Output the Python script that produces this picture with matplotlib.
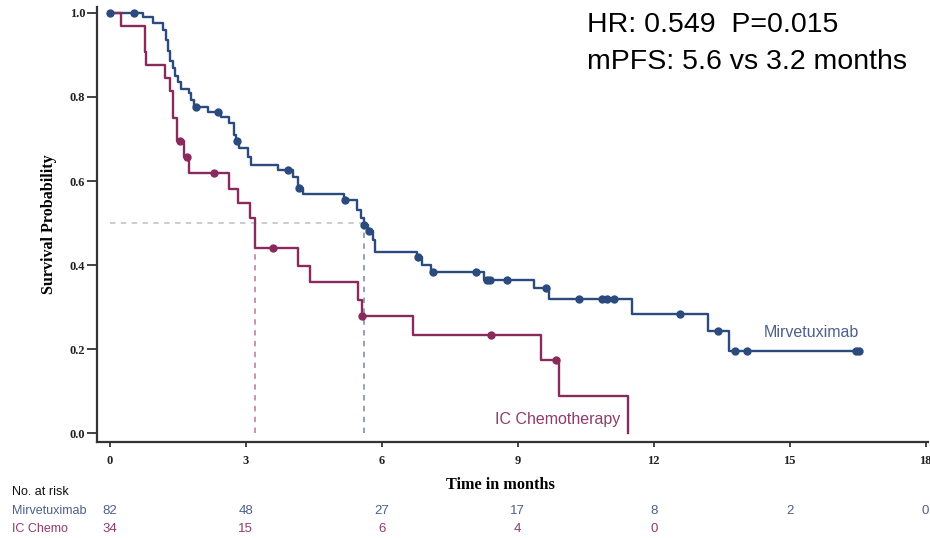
import numpy as np
import matplotlib
matplotlib.use("Agg")
import matplotlib.pyplot as plt
from matplotlib.transforms import blended_transform_factory

# Mirvetuximab: event times (months) and survival after each step
mirv_t = [0, 0.73, 0.95, 1.17, 1.25, 1.28, 1.32, 1.39, 1.43, 1.50, 1.58, 1.76, 1.80, 1.87,
          2.17, 2.46, 2.64, 2.75, 2.79, 2.86, 3.05, 3.12, 3.71, 4.04, 4.15, 4.26, 5.16,
          5.45, 5.55, 5.60, 5.69, 5.80, 5.85, 6.78, 6.90, 7.09, 8.26, 9.36, 9.69, 11.52,
          13.20, 13.66, 16.58]
mirv_s = [1.0, 0.99, 0.975, 0.96, 0.935, 0.91, 0.885, 0.87, 0.85, 0.836, 0.82, 0.81, 0.793, 0.777,
          0.765, 0.753, 0.738, 0.71, 0.694, 0.678, 0.658, 0.638, 0.626, 0.61, 0.583, 0.568, 0.555,
          0.531, 0.512, 0.495, 0.48, 0.46, 0.432, 0.42, 0.40, 0.384, 0.364, 0.345, 0.319, 0.283,
          0.244, 0.195, 0.195]
mirv_cens = [0.0, 0.53, 1.91, 2.39, 2.81, 3.93, 4.17, 5.19, 5.62, 5.71, 6.80, 7.13, 8.08, 8.33,
             8.40, 8.77, 9.62, 10.35, 10.86, 10.97, 11.12, 12.58, 13.41, 13.79, 14.05, 16.47, 16.53]

# IC Chemotherapy
chemo_t = [0, 0.24, 0.77, 0.81, 1.23, 1.34, 1.39, 1.48, 1.65, 1.76, 2.64, 2.83, 3.10, 3.21,
           4.15, 4.42, 5.47, 5.56, 6.68, 9.51, 9.91, 11.43]
chemo_s = [1.0, 0.968, 0.908, 0.876, 0.845, 0.813, 0.749, 0.694, 0.658, 0.62, 0.58, 0.548, 0.511, 0.44,
           0.398, 0.359, 0.318, 0.279, 0.233, 0.175, 0.088, 0.0]
chemo_cens = [1.54, 1.70, 2.31, 3.60, 5.57, 8.41, 9.85]

med_mirv = 5.6
med_chemo = 3.2

risk_times = [0, 3, 6, 9, 12, 15, 18]
risk_mirv = [82, 48, 27, 17, 8, 2, 0]
risk_chemo = [34, 15, 6, 4, 0]

blue = "#2b4a7d"
red = "#8a2a5c"
blue_txt = "#4f5f8c"
red_txt = "#8e3b6c"

serif = ["Liberation Serif", "DejaVu Serif"]
sans = ["Liberation Sans", "DejaVu Sans"]

fig = plt.figure(figsize=(9.3, 5.38), dpi=100)
ax = fig.add_axes([0.1043, 0.1784, 0.8935, 0.8086])


def surv_at(t, ts, ss):
    i = np.searchsorted(ts, t, side="right") - 1
    return ss[max(i, 0)]


# median guide lines
ax.plot([0, med_mirv], [0.5, 0.5], ls=(0, (3, 3)), color="#c8c8c8", lw=1.3, zorder=1)
ax.plot([med_chemo, med_chemo], [0, 0.51], ls=(0, (3, 3)), color="#c48aa8", lw=1.3, zorder=1)
ax.plot([med_mirv, med_mirv], [0, 0.495], ls=(0, (3, 3)), color="#8c97b3", lw=1.3, zorder=1)

# curves
ax.step(mirv_t, mirv_s, where="post", color=blue, lw=1.7, zorder=3)
ax.step(chemo_t, chemo_s, where="post", color=red, lw=1.7, zorder=3)
ax.plot(mirv_cens, [surv_at(c, mirv_t, mirv_s) for c in mirv_cens], "o", color=blue, ms=5, zorder=4)
ax.plot(chemo_cens, [surv_at(c, chemo_t, chemo_s) for c in chemo_cens], "o", color=red, ms=5, zorder=4)

ax.text(15.47, 0.24, "Mirvetuximab", color=blue_txt, fontsize=11.5, family=sans, ha="center", va="center")
ax.text(9.87, 0.033, "IC Chemotherapy", color=red_txt, fontsize=11.5, family=sans, ha="center", va="center")

ax.set_xlim(-0.28, 18.05)
ax.set_ylim(-0.021, 1.014)
ax.set_xticks(risk_times)
ax.set_yticks([0.0, 0.2, 0.4, 0.6, 0.8, 1.0])
ax.set_yticklabels(["0.0", "0.2", "0.4", "0.6", "0.8", "1.0"])
for lab in ax.get_xticklabels() + ax.get_yticklabels():
    lab.set_family(serif)
    lab.set_fontweight("bold")
    lab.set_fontsize(9)
ax.tick_params(axis="y", length=7, width=1.2, pad=1.5, colors="#222222")
ax.tick_params(axis="x", length=3.5, width=1.2, pad=6, colors="#222222")
for side in ["top", "right"]:
    ax.spines[side].set_visible(False)
for side in ["left", "bottom"]:
    ax.spines[side].set_linewidth(1.6)
    ax.spines[side].set_color("#333333")

ax.set_ylabel("Survival Probability", family=serif, fontweight="bold", fontsize=11.5, labelpad=9)
fig.text(0.538, 0.098, "Time in months", family=serif, fontweight="bold", fontsize=11.7, ha="center", va="center")

fig.text(0.631, 0.953, "HR: 0.549  P=0.015", family=sans, fontsize=20.5, va="center")
fig.text(0.631, 0.884, "mPFS: 5.6 vs 3.2 months", family=sans, fontsize=20.5, va="center")

# number at risk table
tr = blended_transform_factory(ax.transData, fig.transFigure)
fig.text(0.013, 0.085, "No. at risk", family=sans, fontsize=9, va="center", color="#111111")
fig.text(0.013, 0.050, "Mirvetuximab", family=sans, fontsize=9, va="center", color=blue_txt)
fig.text(0.013, 0.017, "IC Chemo", family=sans, fontsize=9, va="center", color=red_txt)
for t, n in zip(risk_times, risk_mirv):
    ax.text(t, 0.050, str(n), transform=tr, family=sans, fontsize=9.5, ha="center", va="center", color=blue_txt)
for t, n in zip(risk_times, risk_chemo):
    ax.text(t, 0.017, str(n), transform=tr, family=sans, fontsize=9.5, ha="center", va="center", color=red_txt)

fig.savefig("out.png", dpi=100)
